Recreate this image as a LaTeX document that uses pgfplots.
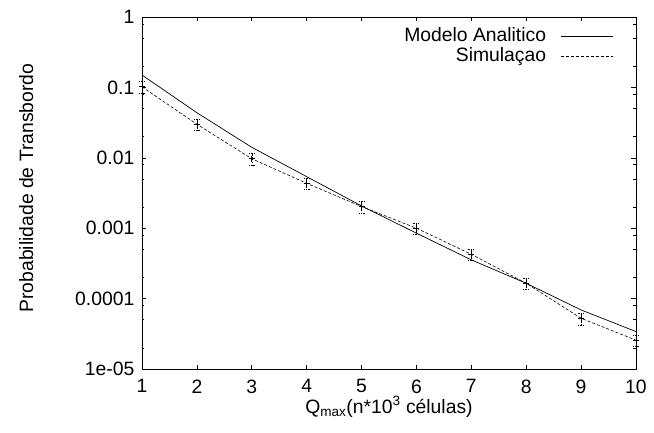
\documentclass[border=0pt]{standalone}
\usepackage{pgfplots}
\pgfplotsset{compat=1.18}
\usepackage{fontspec}
\setmainfont{Liberation Sans}
\pgfplotstableread{
x y e
1 0.102 0.0194
2 0.030 0.0057
3 0.0097 0.00184
4 0.00434 0.00082
5 0.00203 0.000386
6 0.00100 0.00019
7 0.000426 0.000081
8 0.000165 0.000031
9 0.0000525 0.0000100
10 0.0000257 0.0000049
}\simdata
\begin{document}
\fontsize{19.4}{23}\selectfont
\begin{tikzpicture}
\path (-142bp,-64bp) rectangle (512bp,369bp);
\begin{axis}[
 at={(0,0)}, anchor=south west,
 scale only axis, width=494bp, height=352bp,
 xmin=1, xmax=10, ymin=1e-5, ymax=1,
 ymode=log,
 xtick={1,2,3,4,5,6,7,8,9,10},
 ytick={1e-5,1e-4,1e-3,1e-2,1e-1,1},
 yticklabels={1e-05,0.0001,0.001,0.01,0.1,1},
 minor ytick={2e-5,5e-5,8e-5,2e-4,5e-4,8e-4,2e-3,5e-3,8e-3,2e-2,5e-2,8e-2,0.2,0.5,0.8},
 tick align=inside,
 major tick length=4.5bp, minor tick length=2.5bp,
 /pgf/number format/assume math mode=true,
 every tick label/.append style={font=\fontsize{19.4}{23}\selectfont},
 xticklabel style={yshift=-4bp},
 yticklabel style={xshift=-1bp},
 tick style={black, line width=0.6bp},
 axis line style={line width=0.8bp},
 clip=false,
 xlabel={Q\textsubscript{max}(n*10\textsuperscript{3} células)},
 ylabel={Probabilidade de Transbordo},
 xlabel style={at={(axis description cs:0.5,-0.125)}, anchor=base},
 ylabel style={at={(axis description cs:-0.2206,0.514)}, anchor=base},
 legend plot pos=right,
 legend cell align=right,
 legend style={draw=none, fill=none, inner sep=0pt,
   at={(axis description cs:0.9545,0.975)}, anchor=north east,
   nodes={inner sep=1.5bp, text height=14bp, text depth=3bp}},
]
\addplot[black, line width=0.7bp, mark=none,
  legend image code/.code={\path (0bp,0bp); \draw[black, line width=0.7bp] (13bp,0bp) -- (65bp,0bp);}]
 coordinates {(1,0.15)(2,0.0437)(3,0.0141)(4,0.0054)(5,0.00207)(6,0.00085)(7,0.000355)(8,0.000165)(9,0.000069)(10,0.000034)};
\addlegendentry{Modelo Analitico}
\addplot[black, line width=0.6bp, dash pattern=on 3bp off 2bp,
  mark=+, mark size=3bp, mark options={solid, line width=0.6bp},
  error bars/.cd, y dir=both, y explicit,
  error bar style={dash pattern=on 1.5bp off 1.5bp, line width=0.5bp},
  error mark options={rotate=90, mark size=3bp, line width=0.5bp, dash pattern=on 1.5bp off 1bp},
  /pgfplots/legend image code/.code={\path (0bp,0bp); \draw[black, line width=0.6bp, dash pattern=on 3bp off 2bp] (13bp,0bp) -- (65bp,0bp);}]
 table[x=x, y=y, y error=e] {\simdata};
\addlegendentry{Simulaçao}
\end{axis}
\end{tikzpicture}
\end{document}
